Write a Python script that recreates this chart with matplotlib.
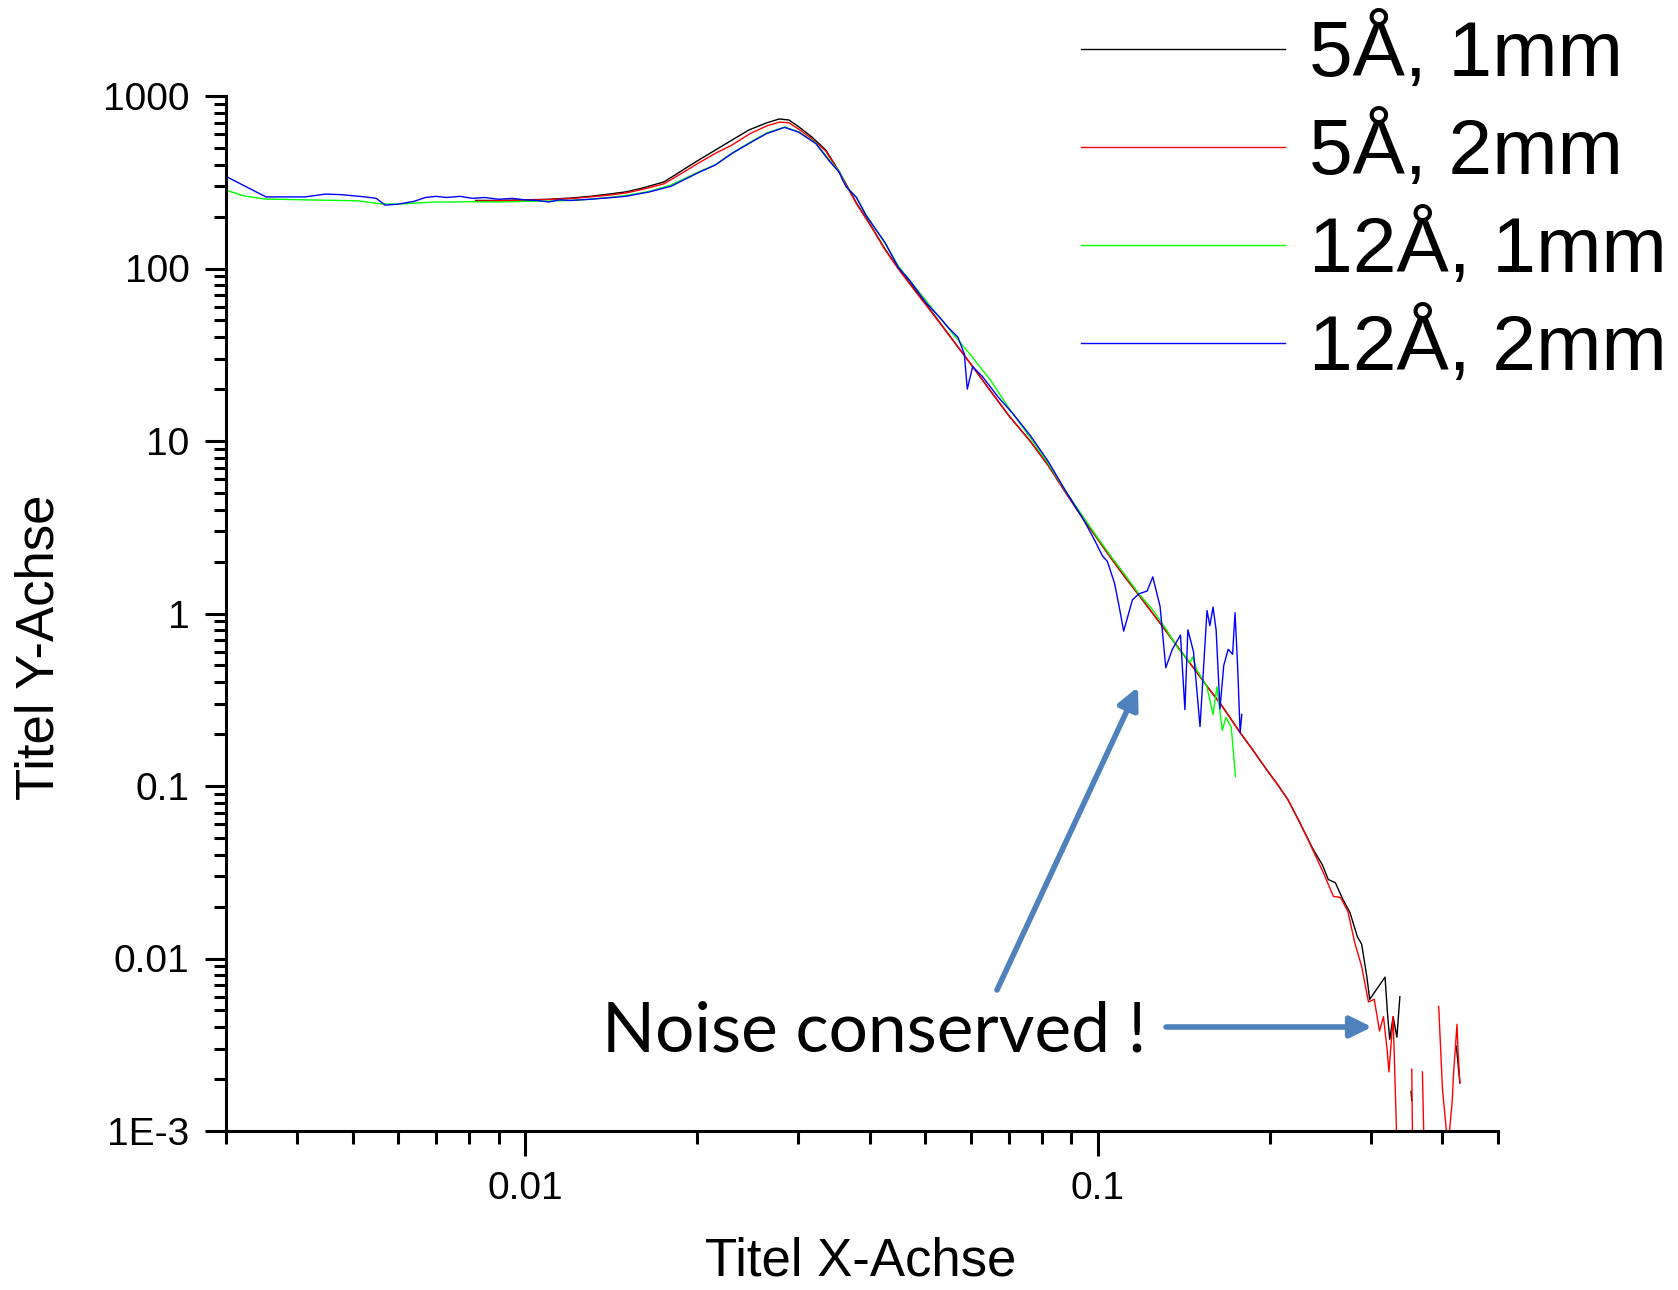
import numpy as np
import matplotlib
matplotlib.use("Agg")
import matplotlib.pyplot as plt
from matplotlib.ticker import LogLocator, NullFormatter
from matplotlib.patches import FancyArrowPatch

nan = np.nan

# 5 A, 1 mm (black)
x_5a1 = [0.0082, 0.009, 0.010, 0.011, 0.012, 0.013, 0.014, 0.015, 0.016, 0.0175,
         0.019, 0.0201, 0.0215, 0.0230, 0.0246, 0.0264, 0.0278, 0.0289, 0.0301, 0.0317,
         0.0335, 0.0354, 0.0379, 0.0404, 0.0425, 0.0449, 0.048, 0.052, 0.056, 0.060,
         0.065, 0.070, 0.0762, 0.082, 0.088, 0.094, 0.100, 0.106, 0.112, 0.118,
         0.1248, 0.132, 0.140, 0.148, 0.156, 0.165, 0.1773, 0.187, 0.197, 0.207,
         0.215, 0.225, 0.2377, 0.2466, 0.2527, 0.2600, 0.268, 0.2757, 0.284, 0.289,
         0.295, 0.2985, 0.3175, 0.3205, 0.3235, 0.328, 0.333, 0.337, nan, 0.3525,
         0.3535, nan, 0.423, 0.426, 0.429]
y_5a1 = [248, 248, 250, 252, 256, 262, 270, 278, 292, 318,
         378, 425, 486, 556, 635, 698, 736, 726, 661, 578,
         487, 363, 240, 172, 130, 100, 75, 53, 38, 28,
         19.5, 14, 10, 7.2, 5.0, 3.6, 2.7, 2.05, 1.6, 1.28,
         1.0, 0.78, 0.60, 0.47, 0.37, 0.29, 0.204, 0.16, 0.125, 0.10,
         0.083, 0.062, 0.043, 0.0351, 0.0287, 0.0275, 0.022, 0.0185, 0.0134, 0.0121,
         0.0079, 0.0058, 0.0078, 0.0049, 0.0034, 0.0046, 0.0035, 0.0060, nan, 0.0017,
         0.0015, nan, 0.0031, 0.0024, 0.0019]

# 5 A, 2 mm (red)
x_5a2 = [0.0082, 0.009, 0.010, 0.011, 0.012, 0.013, 0.014, 0.015, 0.016, 0.0175,
         0.019, 0.0201, 0.0215, 0.0230, 0.0246, 0.0264, 0.0278, 0.0289, 0.0301, 0.0317,
         0.0335, 0.0354, 0.0379, 0.0404, 0.0425, 0.0449, 0.048, 0.052, 0.056, 0.060,
         0.065, 0.070, 0.0762, 0.082, 0.088, 0.094, 0.100, 0.106, 0.112, 0.118,
         0.1248, 0.132, 0.140, 0.148, 0.156, 0.165, 0.1773, 0.187, 0.197, 0.207,
         0.215, 0.225, 0.2322, 0.2477, 0.258, 0.2655, 0.2735, 0.281, 0.289, 0.297,
         0.304, 0.3105, 0.3155, 0.320, 0.3225, 0.328, 0.3345, nan, 0.3535, 0.3555,
         nan, 0.369, 0.373, nan, 0.394, 0.397, 0.400, 0.409, 0.416, 0.418,
         0.424, 0.426, 0.429]
y_5a2 = [246, 247, 249, 251, 254, 260, 266, 274, 287, 310,
         365, 409, 465, 520, 600, 670, 705, 700, 640, 565,
         480, 360, 238, 171, 129, 99, 74, 52.5, 38, 28,
         19.5, 14, 10, 7.2, 5.0, 3.6, 2.7, 2.05, 1.6, 1.28,
         1.0, 0.78, 0.60, 0.47, 0.37, 0.29, 0.204, 0.16, 0.125, 0.10,
         0.083, 0.062, 0.050, 0.0315, 0.0229, 0.0226, 0.0187, 0.0124, 0.0090, 0.0056,
         0.0058, 0.0038, 0.0046, 0.0030, 0.0022, 0.0046, 0.0005, nan, 0.00228, 0.0004,
         nan, 0.0022, 0.0004, nan, 0.00527, 0.0030, 0.00174, 0.0008, 0.0015, 0.0021,
         0.00415, 0.0028, 0.0019]

# 12 A, 1 mm (green)
x_12a1 = [0.003, 0.00324, 0.00351, 0.00413, 0.0051, 0.0056, 0.006, 0.0065, 0.007, 0.0075,
          0.008, 0.009, 0.010, 0.011, 0.012, 0.013, 0.014, 0.015, 0.0165, 0.018,
          0.0201, 0.0215, 0.0230, 0.0246, 0.0264, 0.0284, 0.0301, 0.0322, 0.0340, 0.0354,
          0.0364, 0.0379, 0.0394, 0.0425, 0.0449, 0.048, 0.052, 0.056, 0.060, 0.065,
          0.070, 0.0762, 0.082, 0.088, 0.094, 0.100, 0.106, 0.112, 0.118, 0.1248,
          0.128, 0.132, 0.138, 0.145, 0.1465, 0.149, 0.155, 0.159, 0.1615, 0.165,
          0.1675, 0.171, 0.172, 0.174]
y_12a1 = [285, 263, 253, 250, 247, 237, 236, 240, 243, 243,
          244, 243, 245, 246, 248, 252, 258, 265, 280, 305,
          363, 400, 467, 534, 610, 661, 619, 534, 426, 363,
          297, 260, 205, 140, 103, 78, 56, 41.5, 31.5, 22.5,
          15.5, 10.5, 7.4, 5.1, 3.7, 2.75, 2.1, 1.65, 1.3, 1.05,
          0.93, 0.80, 0.63, 0.52, 0.56, 0.47, 0.38, 0.26, 0.376, 0.21,
          0.25, 0.22, 0.18, 0.113]

# 12 A, 2 mm (blue)
x_12a2 = [0.003, 0.00353, 0.00413, 0.00448, 0.00478, 0.00526, 0.0055, 0.0057, 0.0060, 0.0064,
          0.0067, 0.0070, 0.0073, 0.0077, 0.0081, 0.0085, 0.009, 0.0095, 0.010, 0.0105,
          0.011, 0.0115, 0.012, 0.013, 0.014, 0.015, 0.0165, 0.018, 0.0201, 0.0215,
          0.0230, 0.0246, 0.0264, 0.0284, 0.0301, 0.0322, 0.0340, 0.0354, 0.0358, 0.0364,
          0.0379, 0.0394, 0.0425, 0.0449, 0.047, 0.050, 0.053, 0.055, 0.057, 0.0585,
          0.0592, 0.0605, 0.063, 0.067, 0.071, 0.0762, 0.082, 0.088, 0.094, 0.098,
          0.102, 0.104, 0.107, 0.109, 0.111, 0.115, 0.118, 0.122, 0.1248, 0.1285,
          0.1315, 0.135, 0.1395, 0.142, 0.1437, 0.147, 0.1509, 0.1552, 0.157, 0.159,
          0.161, 0.1635, 0.166, 0.169, 0.172, 0.1737, 0.1755, 0.1773, 0.1785]
y_12a2 = [343, 260, 260, 270, 268, 260, 255, 233, 236, 245,
          258, 262, 258, 262, 255, 258, 252, 255, 250, 248,
          243, 250, 248, 252, 257, 262, 278, 300, 360, 398,
          465, 530, 605, 658, 615, 530, 420, 360, 330, 297,
          258, 203, 142, 101, 85, 64, 52, 45, 40, 32,
          20, 27, 23.5, 18, 14.5, 10.8, 7.6, 5.1, 3.6, 2.8,
          2.15, 2.0, 1.5, 1.1, 0.79, 1.2, 1.3, 1.35, 1.63, 1.1,
          0.485, 0.62, 0.75, 0.277, 0.805, 0.6, 0.221, 1.04, 0.85, 1.09,
          0.80, 0.28, 0.5, 0.62, 0.58, 1.01, 0.5, 0.204, 0.26]

series = [
    (x_5a1, y_5a1, "#000000", "5Å, 1mm"),
    (x_5a2, y_5a2, "#ff0000", "5Å, 2mm"),
    (x_12a1, y_12a1, "#00ff00", "12Å, 1mm"),
    (x_12a2, y_12a2, "#0000ff", "12Å, 2mm"),
]

ytick_values = [1000, 100, 10, 1, 0.1, 0.01, 0.001]
ytick_labels = ["1000", "100", "10", "1", "0.1", "0.01", "1E-3"]
xtick_values = [0.01, 0.1]
xtick_labels = ["0.01", "0.1"]

W, H = 1678, 1290
fig = plt.figure(figsize=(W / 100, H / 100), dpi=100)
ax = fig.add_axes([225.5 / W, 1 - 1131 / H, (1498 - 225.5) / W, (1131 - 96) / H])

lines = []
for xs, ys, col, lab in series:
    ln, = ax.plot(xs, ys, color=col, lw=1.0, label=lab)
    lines.append(ln)

ax.set_xscale("log")
ax.set_yscale("log")
ax.set_xlim(0.003, 0.5)
ax.set_ylim(0.001, 1000)

for s in ["top", "right"]:
    ax.spines[s].set_visible(False)
for s in ["left", "bottom"]:
    ax.spines[s].set_linewidth(2.2)

ax.set_yticks(ytick_values, ytick_labels)
ax.set_xticks(xtick_values, xtick_labels)
ax.yaxis.set_minor_locator(LogLocator(base=10, subs=np.arange(2, 10), numticks=20))
ax.xaxis.set_minor_locator(LogLocator(base=10, subs=np.arange(2, 10), numticks=20))
ax.xaxis.set_minor_formatter(NullFormatter())
ax.yaxis.set_minor_formatter(NullFormatter())

tick_font = "Liberation Sans"
ax.tick_params(axis="both", which="both", direction="out", width=2.2, labelsize=28)
ax.tick_params(axis="y", which="major", length=15, pad=11)
ax.tick_params(axis="x", which="major", length=18, pad=11)
ax.tick_params(axis="both", which="minor", length=9)
for lab in ax.get_xticklabels() + ax.get_yticklabels():
    lab.set_fontfamily(tick_font)

fig.text(861 / W, 1 - 1276 / H, "Titel X-Achse", ha="center", va="baseline",
         fontsize=38, family=tick_font)
fig.text(40 / W, 1 - 647 / H, "Titel Y-Achse", ha="center", va="center",
         rotation=90, fontsize=38, family=tick_font)

fig.legend(handles=lines, loc="upper left", bbox_to_anchor=(1081 / W, 1 - 14 / H),
           frameon=False, borderpad=0, borderaxespad=0, handlelength=2.6,
           handletextpad=0.31, labelspacing=0.255,
           prop={"family": tick_font, "size": 56.5})

# annotation
arrow_col = "#4f81bd"
fig.text(602 / W, 1 - 1051 / H, "Noise conserved !", ha="left", va="baseline",
         fontsize=50, family="Lato")
for (x0, y0), (x1, y1) in [((997, 990), (1138, 687)), ((1166, 1027), (1372, 1027))]:
    arr = FancyArrowPatch((x0 / W, 1 - y0 / H), (x1 / W, 1 - y1 / H),
                          transform=fig.transFigure,
                          arrowstyle="-|>,head_length=0.65,head_width=0.32",
                          mutation_scale=20, lw=4, color=arrow_col,
                          shrinkA=0, shrinkB=0)
    fig.add_artist(arr)

fig.savefig("out.png", dpi=100)
